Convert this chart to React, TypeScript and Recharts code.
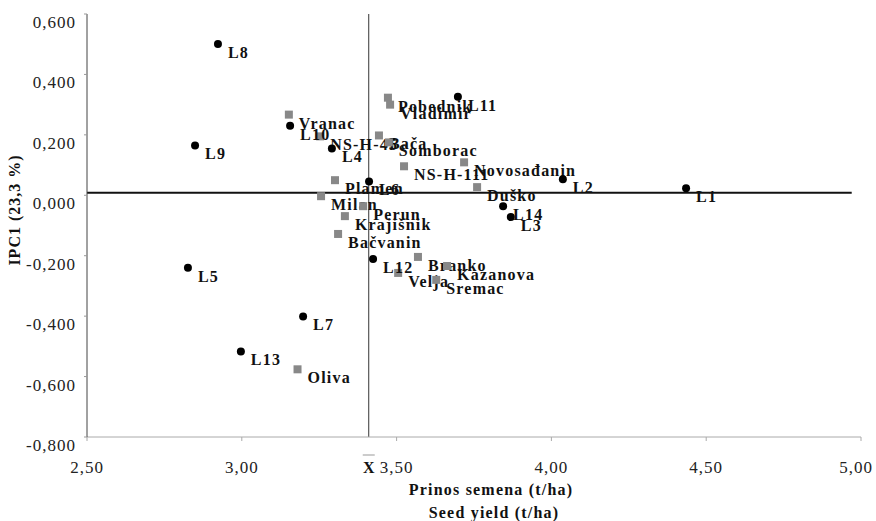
import React from 'react';
import { ScatterChart, Scatter, XAxis, YAxis, ReferenceLine } from 'recharts';

// lines (black dots)
const lineNames = ['L1', 'L2', 'L3', 'L4', 'L5', 'L6', 'L7', 'L8', 'L9', 'L10', 'L11', 'L12', 'L13', 'L14'];
const lineYield = [4.435, 4.037, 3.869, 3.291, 2.826, 3.411, 3.198, 2.923, 2.849, 3.156, 3.698, 3.424, 2.997, 3.844];
const lineIPC1 = [0.023, 0.053, -0.072, 0.155, -0.24, 0.046, -0.401, 0.501, 0.165, 0.23, 0.326, -0.211, -0.517, -0.036];

// cultivars (grey squares)
const cultivarNames = ['Vranac', 'NS-H-45', 'Bača', 'Somborac', 'Pobednik', 'Vladimir', 'NS-H-111', 'Novosađanin', 'Duško', 'Plamen', 'Milan', 'Perun', 'Krajišnik', 'Bačvanin', 'Branko', 'Kazanova', 'Velja', 'Sremac', 'Oliva'];
const cultivarYield = [3.152, 3.253, 3.443, 3.475, 3.472, 3.479, 3.524, 3.718, 3.76, 3.301, 3.256, 3.392, 3.333, 3.311, 3.569, 3.663, 3.505, 3.628, 3.18];
const cultivarIPC1 = [0.267, 0.195, 0.198, 0.175, 0.323, 0.3, 0.096, 0.109, 0.027, 0.05, -0.003, -0.036, -0.069, -0.128, -0.204, -0.234, -0.257, -0.28, -0.576];

const xTicks = [2.5, 3, 3.5, 4, 4.5, 5];
const yTicks = [-0.8, -0.6, -0.4, -0.2, 0, 0.2, 0.4, 0.6];
const meanYield = 3.41;
const meanIPC1 = 0.008;

const serif = '"Liberation Serif", "Times New Roman", serif';

const lineData = lineNames.map((name, i) => ({ name, x: lineYield[i], y: lineIPC1[i] }));
const cultivarData = cultivarNames.map((name, i) => ({ name, x: cultivarYield[i], y: cultivarIPC1[i] }));

const fmtY = (v: number) => v.toFixed(3).replace('.', ',');
const fmtX = (v: number) => v.toFixed(2).replace('.', ',');

const PointLabel = ({ cx, cy, name }: any) => (
  <text x={cx + 10} y={cy + 14} fontFamily={serif} fontWeight="bold" fontSize={16} letterSpacing={1.2} fill="#111">
    {name}
  </text>
);

const DotShape = (props: any) => {
  const { cx, cy, payload } = props;
  return (
    <g>
      <circle cx={cx} cy={cy} r={4} fill="#000" />
      <PointLabel cx={cx} cy={cy} name={payload.name} />
    </g>
  );
};

const SquareShape = (props: any) => {
  const { cx, cy, payload } = props;
  return (
    <g>
      <rect x={cx - 4} y={cy - 4} width={8} height={8} fill="#888" />
      <PointLabel cx={cx} cy={cy} name={payload.name} />
    </g>
  );
};

const YTick = ({ x, y, payload }: any) => (
  <text x={x - 6} y={y + 14} textAnchor="end" fontFamily={serif} fontSize={17} letterSpacing={1} fill="#222">
    {fmtY(payload.value)}
  </text>
);

// last label is pulled in a little so it stays inside the frame
const XTick = ({ x, y, payload }: any) => (
  <text x={payload.value === 5 ? x - 5 : x} y={y + 30} textAnchor="middle" fontFamily={serif} fontSize={17} letterSpacing={1} fill="#222">
    {fmtX(payload.value)}
  </text>
);

const MeanLabel = (props: any) => {
  const { viewBox } = props;
  const x = viewBox.x;
  const y = viewBox.y + viewBox.height;
  return (
    <g>
      <line x1={x - 6} x2={x + 6} y1={y + 18} y2={y + 18} stroke="#999" strokeWidth={1} />
      <text x={x} y={y + 36} textAnchor="middle" fontFamily={serif} fontWeight="bold" fontSize={16} fill="#111">
        X
      </text>
    </g>
  );
};

export default function App() {
  return (
    <div style={{ position: 'absolute', left: 0, top: 0, background: '#fff' }}>
      <ScatterChart width={876} height={521} margin={{ top: 14, right: 15, bottom: 0, left: 0 }}>
        <XAxis
          type="number"
          dataKey="x"
          domain={[2.5, 5]}
          ticks={xTicks}
          allowDataOverflow
          height={84}
          tickSize={4}
          axisLine={{ stroke: '#aaa' }}
          tickLine={{ stroke: '#aaa' }}
          tick={<XTick />}
          label={({ viewBox }: any) => (
            <g>
              <text x={viewBox.x + viewBox.width / 2 + 17} y={viewBox.y + 58} textAnchor="middle" fontFamily={serif} fontWeight="bold" fontSize={16} letterSpacing={1.2} fill="#111">
                Prinos semena (t/ha)
              </text>
              <text x={viewBox.x + viewBox.width / 2 + 20} y={viewBox.y + 81} textAnchor="middle" fontFamily={serif} fontWeight="bold" fontSize={16} letterSpacing={1.2} fill="#111">
                Seed yield (t/ha)
              </text>
            </g>
          )}
        />
        <YAxis
          type="number"
          dataKey="y"
          domain={[-0.8, 0.6]}
          ticks={yTicks}
          allowDataOverflow
          width={87}
          tickSize={3}
          axisLine={{ stroke: '#444' }}
          tickLine={{ stroke: '#999' }}
          tick={<YTick />}
          label={() => (
            <text x={20} y={210} transform="rotate(-90 20 210)" textAnchor="middle" fontFamily={serif} fontWeight="bold" fontSize={16} letterSpacing={1} fill="#111">
              IPC1 (23,3 %)
            </text>
          )}
        />
        <ReferenceLine x={meanYield} stroke="#333" strokeWidth={1} label={<MeanLabel />} />
        <ReferenceLine
          segment={[{ x: 2.5, y: meanIPC1 }, { x: 4.97, y: meanIPC1 }]}
          stroke="#111"
          strokeWidth={2}
        />
        <Scatter data={cultivarData} shape={<SquareShape />} isAnimationActive={false} />
        <Scatter data={lineData} shape={<DotShape />} isAnimationActive={false} />
      </ScatterChart>
    </div>
  );
}
